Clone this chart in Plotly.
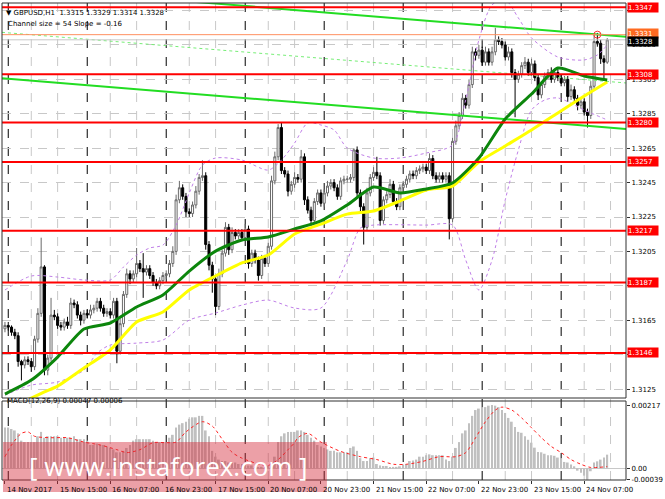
import plotly.graph_objects as go

PIP = 0.0001

# ---------------- data ----------------
tick_labels = ["14 Nov 2017", "15 Nov 15:00", "16 Nov 07:00", "16 Nov 23:00",
               "17 Nov 15:00", "20 Nov 07:00", "20 Nov 23:00", "21 Nov 15:00",
               "22 Nov 07:00", "22 Nov 23:00", "23 Nov 15:00", "24 Nov 07:00"]
tick_bars = [0, 16, 32, 48, 64, 80, 96, 112, 128, 144, 160, 176]
day_start_bars = [1, 25, 49, 73, 97, 121, 145, 169]

first_open = 1.3160
close = [
    1.3162, 1.3161, 1.3158, 1.3156, 1.3141, 1.3139, 1.3142, 1.3141,
    1.3138, 1.3154, 1.3169, 1.3196, 1.3136, 1.3143, 1.3168, 1.3167,
    1.3162, 1.3161, 1.3164, 1.3162, 1.3175, 1.3174, 1.3168, 1.3165,
    1.3169, 1.3168, 1.3171, 1.3172, 1.3176, 1.3172, 1.3169, 1.3170,
    1.3168, 1.3176, 1.3147, 1.3163, 1.3180, 1.3192, 1.3189, 1.3192,
    1.3198, 1.3195, 1.3193, 1.3195, 1.3191, 1.3187, 1.3185, 1.3188,
    1.3191, 1.3192, 1.3198, 1.3205, 1.3235, 1.3242, 1.3237, 1.3228,
    1.3227, 1.3232, 1.3240, 1.3248, 1.3249, 1.3209, 1.3197, 1.3189,
    1.3173, 1.3192, 1.3204, 1.3219, 1.3206, 1.3216, 1.3214, 1.3216,
    1.3213, 1.3218, 1.3198, 1.3204, 1.3200, 1.3191, 1.3201, 1.3198,
    1.3208, 1.3246, 1.3260, 1.3277, 1.3252, 1.3250, 1.3240, 1.3244,
    1.3248, 1.3247, 1.3260, 1.3235, 1.3229, 1.3223, 1.3234, 1.3239,
    1.3233, 1.3239, 1.3243, 1.3245, 1.3242, 1.3237, 1.3246, 1.3247,
    1.3247, 1.3248, 1.3264, 1.3239, 1.3231, 1.3219, 1.3239, 1.3248,
    1.3251, 1.3249, 1.3223, 1.3235, 1.3238, 1.3244, 1.3234, 1.3231,
    1.3242, 1.3244, 1.3247, 1.3250, 1.3249, 1.3252, 1.3253, 1.3254,
    1.3252, 1.3259, 1.3249, 1.3247, 1.3249, 1.3247, 1.3249, 1.3224,
    1.3269, 1.3278, 1.3284, 1.3294, 1.3290, 1.3302, 1.3321, 1.3319,
    1.3322, 1.3315, 1.3321, 1.3315, 1.3321, 1.3328, 1.3327, 1.3325,
    1.3318, 1.3321, 1.3309, 1.3305, 1.3308, 1.3313, 1.3315, 1.3309,
    1.3314, 1.3306, 1.3296, 1.3302, 1.3307, 1.3309, 1.3305, 1.3309,
    1.3306, 1.3303, 1.3305, 1.3295, 1.3299, 1.3294, 1.3290, 1.3292,
    1.3286, 1.3284, 1.3301, 1.3327, 1.3326, 1.3317, 1.3315, 1.3328,
]
# wick lengths (pips) above / below each candle body
wick_up = [
    2, 2, 1, 2, 2, 1, 2, 2,   2, 2, 3, 17, 1, 2, 10, 3,
    2, 2, 2, 3, 3, 2, 2, 2,   2, 2, 3, 2, 2, 2, 2, 2,
    2, 2, 2, 3, 2, 3, 2, 2,   9, 2, 9, 2, 2, 2, 2, 2,
    2, 2, 2, 3, 3, 4, 2, 2,   2, 2, 3, 2, 9, 2, 2, 2,
    2, 3, 2, 3, 2, 3, 2, 2,   2, 3, 2, 2, 2, 2, 2, 2,
    2, 3, 3, 2, 3, 2, 2, 2,   3, 2, 4, 2, 2, 2, 2, 2,
    2, 2, 3, 2, 2, 2, 2, 2,   2, 2, 1, 2, 2, 2, 3, 2,
    3, 9, 2, 2, 2, 3, 2, 2,   2, 2, 2, 2, 2, 2, 2, 2,
    2, 3, 2, 2, 2, 2, 2, 2,   2, 3, 2, 3, 2, 3, 3, 2,
    3, 2, 3, 2, 3, 7, 2, 2,   2, 3, 2, 2, 2, 2, 3, 2,
    3, 2, 2, 2, 2, 2, 3, 2,   2, 2, 2, 2, 3, 2, 2, 2,
    2, 2, 3, 4, 5, 2, 2, 1,
]
wick_dn = [
    2, 2, 2, 2, 3, 9, 2, 2,   3, 2, 2, 2, 3, 3, 2, 2,
    2, 2, 2, 2, 2, 2, 2, 3,   2, 2, 2, 2, 2, 2, 2, 2,
    2, 2, 7, 2, 2, 2, 3, 2,   2, 2, 15, 2, 2, 2, 2, 2,
    2, 2, 2, 2, 2, 2, 2, 3,   2, 2, 2, 2, 2, 3, 3, 8,
    5, 2, 2, 2, 3, 2, 2, 2,   2, 2, 3, 2, 2, 3, 2, 2,
    2, 2, 2, 2, 2, 2, 3, 2,   2, 2, 2, 3, 2, 3, 2, 2,
    2, 2, 2, 2, 2, 2, 2, 2,   2, 2, 2, 2, 3, 10, 2, 2,
    2, 2, 3, 2, 2, 2, 2, 2,   2, 2, 2, 2, 2, 2, 2, 2,
    2, 2, 2, 2, 2, 2, 2, 12,  2, 2, 2, 2, 2, 2, 2, 3,
    2, 2, 2, 2, 2, 2, 2, 2,   2, 2, 3, 22, 2, 2, 2, 2,
    2, 2, 3, 2, 2, 2, 2, 2,   2, 2, 2, 3, 2, 2, 3, 2,
    2, 7, 2, 2, 2, 3, 10, 1,
]

# moving averages (sampled points)
ma_green_bars = [0, 8, 16, 24, 32, 40, 48, 56, 64, 72, 80, 88, 96, 104, 112,
                 120, 128, 136, 144, 152, 160, 168, 176, 183]
ma_green_vals = [1.31221, 1.31302, 1.31436, 1.31599, 1.31634, 1.31727, 1.31797,
                 1.31936, 1.32052, 1.32116, 1.32134, 1.32180, 1.32227, 1.32320,
                 1.32424, 1.32390, 1.32413, 1.32448, 1.32593, 1.32820, 1.32965,
                 1.33116, 1.33070, 1.33047]
ma_yellow_bars = [0, 8, 12, 16, 24, 32, 40, 48, 56, 64, 72, 80, 88, 96, 104,
                  112, 120, 128, 136, 144, 152, 160, 168, 176, 183]
ma_yellow_vals = [1.31128, 1.31198, 1.31233, 1.31267, 1.31372, 1.31477, 1.31640,
                  1.31698, 1.31826, 1.31907, 1.31983, 1.32029, 1.32151, 1.32209,
                  1.32267, 1.32285, 1.32343, 1.32407, 1.32430, 1.32570, 1.32663,
                  1.32756, 1.32855, 1.32953, 1.33035]

# envelope bands (dotted violet)
band_up_bars = [0, 8, 16, 24, 32, 36, 40, 44, 48, 52, 56, 60, 64, 72, 80, 84, 88,
                92, 96, 100, 104, 112, 120, 128, 136, 140, 144, 148, 152, 156,
                160, 168, 176, 180, 183]
band_up_vals = [1.31826, 1.31907, 1.31901, 1.31884, 1.31884, 1.31959, 1.32029,
                1.32070, 1.32087, 1.32203, 1.32390, 1.32552, 1.32593, 1.32581,
                1.32523, 1.32581, 1.32680, 1.32797, 1.32785, 1.32756, 1.32651,
                1.32593, 1.32593, 1.32622, 1.32669, 1.32930, 1.33279, 1.33483,
                1.33512, 1.33407, 1.33291, 1.33180, 1.33163, 1.33192, 1.33250]
band_dn_bars = [0, 8, 16, 24, 28, 32, 40, 48, 56, 64, 72, 80, 88, 96, 104, 108,
                112, 128, 136, 140, 144, 148, 152, 156, 160, 164, 168, 176, 183]
band_dn_vals = [1.31215, 1.31273, 1.31291, 1.31360, 1.31459, 1.31506, 1.31517,
                1.31535, 1.31651, 1.31692, 1.31738, 1.31767, 1.31721, 1.31721,
                1.32000, 1.32186, 1.32203, 1.32203, 1.32203, 1.32000, 1.31826,
                1.32000, 1.32349, 1.32640, 1.32872, 1.32930, 1.32942, 1.32872,
                1.32814]

# support / resistance levels
levels = [1.3347, 1.3308, 1.3280, 1.3257, 1.3217, 1.3187, 1.3146]
alert_price = 1.3331

# price axis tick values (the ones hidden behind level tags in the picture are unlabeled)
price_ticks = [1.3125, 1.3145, 1.3165, 1.3185, 1.3205, 1.3225, 1.3245,
               1.3265, 1.3285, 1.3305, 1.3325, 1.3345]
price_ticks_hidden = [1.3145, 1.3185, 1.3345]

# regression channel anchor points (bar, price)
channel_upper = [(0, 1.33590), (183, 1.33306)]
channel_mid = [(0, 1.33322), (183, 1.33038)]
channel_lower = [(0, 1.33055), (183, 1.32771)]
channel_size = 54
channel_slope = -0.16

# MACD histogram (units of 1e-4) and signal line points
macd_hist_e4 = [
    14, 14, 13.5, 13, 12, 9.5, 9, 9,
    9, 9, 11, 12.5, 10.5, 11, 11, 11,
    11, 10.5, 10.5, 10.5, 10.5, 11, 10, 10,
    10, 9.5, 8, 8, 8.5, 8, 8, 7.5,
    7, 6.5, 5.5, 5.5, 6, 7, 8, 9.5,
    10, 10, 10, 10, 10, 9.5, 9, 9,
    9, 9, 10.5, 11.5, 14, 15, 15.5, 16,
    17, 17.5, 17.5, 18, 18, 13, 11, 6,
    4, 3, 2.5, 2.5, 2, 2, 2, 1.5,
    1.5, 1.5, 1, 1, 0.5, 0.3, 0.5, 0.5,
    1, 2, 4, 9, 11, 12, 12.5, 12.5,
    12.5, 13, 13, 12.5, 11.5, 10.5, 9.5, 8,
    7.5, 7, 6.5, 6, 6, 5.5, 5.5, 5.5,
    5.5, 7, 7.5, 6, 3.5, 2.5, 2.5, 3.5,
    3.7, 1.5, 1, 0.8, 0.8, 0.5, 0.5, 0.5,
    0.7, 1.3, 1.5, 2.5, 2.7, 3, 4, 4,
    4.5, 4.8, 4.5, 4.5, 4.5, 4.5, 3, 2.5,
    4, 7, 9, 12, 13, 15.5, 18, 20,
    20.5, 21, 21, 21.5, 21.7, 21.5, 21, 20,
    19, 17.3, 16, 14.2, 12.5, 12.2, 11, 9.8,
    8.8, 7.1, 5.6, 5.5, 5, 4.5, 4.5, 4.3,
    3.7, 3.5, 2.2, 2, 1.3, 0.7, -0.8, -1.5,
    -2.5, -3.9, -1, 2, 2.4, 3, 3.7, 4.7,
]
signal_bars = [0, 2, 5, 7, 9, 14, 19, 24, 29, 34, 37, 41, 45, 49, 52, 55, 60,
               63, 66, 69, 72, 77, 80, 83, 86, 88, 89, 92, 96, 102, 108, 113,
               118, 122, 127, 132, 137, 140, 143, 146, 149, 151, 154, 157, 160,
               163, 166, 169, 172, 175, 178, 183]
signal_e4 = [4, 8, 12, 12.5, 11, 10.5, 10.5, 9, 8, 6.4, 5.4, 6.4, 8.8, 8.8, 9,
             12.5, 16, 14.5, 10, 5.5, 3.5, 1.5, 1, 3, 6.4, 8.8, 10.5, 12, 9,
             5.8, 4, 3, 1.4, 1.4, 2.4, 4, 4, 5.4, 10.5, 16, 20, 21, 20, 17.3,
             13.9, 10.5, 7.5, 5.4, 3, 1.4, 0.3, 0.6]
macd_axis_labels = [0.00217, 0.0, -0.00039]
macd_axis_texts = ["0.00217", "0.00", "-0.00039"]

# ---------------- derived arrays ----------------
bars = list(range(len(close)))
open_ = [first_open] + close[:-1]
high = [max(o, c) + u * PIP for o, c, u in zip(open_, close, wick_up)]
low = [min(o, c) - d * PIP for o, c, d in zip(open_, close, wick_dn)]
macd_hist = [v * 1e-4 for v in macd_hist_e4]
signal = [v * 1e-4 for v in signal_e4]

XMIN, XMAX = -0.9, 188.7
FONT = "DejaVu Sans"


def extend(line):
    (b0, p0), (b1, p1) = line
    s = (p1 - p0) / (b1 - b0)
    return [XMIN, XMAX], [p0 + s * (XMIN - b0), p0 + s * (XMAX - b0)]


fig = go.Figure()

# channel lines
for ch, col, w, dash in [(channel_upper, "#22dd22", 2, "solid"),
                         (channel_mid, "#77ee77", 1, "dot"),
                         (channel_lower, "#22dd22", 2, "solid")]:
    xs, ys = extend(ch)
    fig.add_trace(go.Scatter(x=xs, y=ys, mode="lines", yaxis="y",
                             line=dict(color=col, width=w, dash=dash),
                             hoverinfo="skip"))

# envelope bands
for bx, bv in [(band_up_bars, band_up_vals), (band_dn_bars, band_dn_vals)]:
    fig.add_trace(go.Scatter(x=bx, y=bv, mode="lines", yaxis="y",
                             line=dict(color="#c080e8", width=1, dash="dot",
                                       shape="spline", smoothing=0.8),
                             hoverinfo="skip"))

# candles
fig.add_trace(go.Candlestick(
    x=bars, open=open_, high=high, low=low, close=close, yaxis="y",
    increasing=dict(line=dict(color="#6a6a6a", width=1), fillcolor="#ffffff"),
    decreasing=dict(line=dict(color="#000000", width=1), fillcolor="#000000"),
    whiskerwidth=0, hoverinfo="skip"))

# moving averages
fig.add_trace(go.Scatter(x=ma_yellow_bars, y=ma_yellow_vals, mode="lines", yaxis="y",
                         line=dict(color="#ffff00", width=3, shape="spline", smoothing=0.6),
                         hoverinfo="skip"))
fig.add_trace(go.Scatter(x=ma_green_bars, y=ma_green_vals, mode="lines", yaxis="y",
                         line=dict(color="#0c860c", width=3, shape="spline", smoothing=0.6),
                         hoverinfo="skip"))

# alert circle
fig.add_trace(go.Scatter(x=[bars[-4]], y=[alert_price], mode="markers", yaxis="y",
                         marker=dict(symbol="circle-open", size=7, color="#ff3030",
                                     line=dict(width=1)),
                         hoverinfo="skip"))

# MACD
fig.add_trace(go.Bar(x=bars, y=macd_hist, yaxis="y2", width=0.55,
                     marker=dict(color="#c0c0c0", line=dict(width=0)),
                     hoverinfo="skip"))
fig.add_trace(go.Scatter(x=signal_bars, y=signal, mode="lines", yaxis="y2",
                         line=dict(color="#ff2020", width=1, dash="dot",
                                   shape="spline", smoothing=0.8),
                         hoverinfo="skip"))

shapes = []
# vertical grid (every 8 bars) and day separators
for b in range(0, int(XMAX) + 1, 8):
    if b % 24 == 0:
        continue
    shapes.append(dict(type="line", xref="x", yref="paper", x0=b, x1=b, y0=0, y1=1,
                       line=dict(color="#c8c8c8", width=1, dash="dash"), layer="below"))
for b in day_start_bars:
    shapes.append(dict(type="line", xref="x", yref="paper", x0=b, x1=b, y0=0, y1=1,
                       line=dict(color="#000000", width=1, dash="dash"), layer="below"))

# horizontal levels
shapes.append(dict(type="line", xref="x domain", yref="y", x0=0, x1=1,
                   y0=close[-1], y1=close[-1], line=dict(color="#c8c8c8", width=1)))
shapes.append(dict(type="line", xref="x domain", yref="y", x0=0, x1=1,
                   y0=alert_price, y1=alert_price, line=dict(color="#ff9060", width=1)))
for lv in levels:
    shapes.append(dict(type="line", xref="x domain", yref="y", x0=0, x1=1,
                       y0=lv, y1=lv, line=dict(color="#ff0000", width=2)))

# panel frames
for ax in ["y", "y2"]:
    shapes.append(dict(type="rect", xref="x domain", yref=ax + " domain",
                       x0=0, x1=1, y0=0, y1=1, line=dict(color="#303030", width=1),
                       fillcolor="rgba(0,0,0,0)"))


def px_x(px):
    return (px - 2) / 630.0


def px_y(py):
    return (480 - py) / 477.0


# watermark box
shapes.append(dict(type="rect", xref="paper", yref="paper",
                   x0=px_x(3), x1=px_x(330), y0=px_y(492), y1=px_y(442),
                   fillcolor="rgba(212,45,60,0.45)", line=dict(width=0), layer="above"))

annotations = []
# price tags on the right axis
tag = dict(xref="paper", x=1, xanchor="left", xshift=1, yref="y", showarrow=False,
           width=30, height=9, align="left", borderpad=0)
for lv in levels:
    annotations.append(dict(tag, y=lv, text=f"{lv:.4f}", bgcolor="#ff0000",
                            font=dict(family=FONT, size=7, color="white")))
annotations.append(dict(tag, y=alert_price, yshift=1, text=f"{alert_price:.4f}",
                        bgcolor="#ff6a20", font=dict(family=FONT, size=7, color="white")))
annotations.append(dict(tag, y=close[-1], yshift=-2, text=f"{close[-1]:.4f}",
                        bgcolor="#000000", font=dict(family=FONT, size=7, color="white")))

# x labels
for b, t in zip(tick_bars, tick_labels):
    annotations.append(dict(xref="x", x=b, xanchor="left", yref="paper", y=0,
                            yanchor="top", yshift=-4, text=t, showarrow=False,
                            font=dict(family=FONT, size=7, color="black")))

# header texts
annotations.append(dict(xref="paper", x=px_x(4), xanchor="left", yref="paper", y=px_y(7),
                        text=f"\u25BC GBPUSD,H1  {open_[-1]:.4f} {high[-1]:.4f} "
                             f"{low[-1]:.4f} {close[-1]:.4f}",
                        showarrow=False, font=dict(family=FONT, size=7, color="black")))
annotations.append(dict(xref="paper", x=px_x(6), xanchor="left", yref="paper", y=px_y(18),
                        text=f"Channel size = {channel_size} Slope = {channel_slope}",
                        showarrow=False, font=dict(family=FONT, size=7, color="black")))
annotations.append(dict(xref="paper", x=px_x(5), xanchor="left", yref="paper", y=px_y(407),
                        text=f"MACD(12,26,9) {macd_hist[-1]:.5f} {signal[-1]:.5f}",
                        showarrow=False, font=dict(family=FONT, size=7, color="black")))
# watermark text
annotations.append(dict(xref="paper", x=px_x(170), xanchor="center", yref="paper",
                        y=px_y(466), yanchor="middle", borderpad=0,
                        text="[ www.instaforex.com ]", showarrow=False,
                        font=dict(family="Open Sans", size=26, color="white")))

fig.update_layout(
    width=665, height=499,
    margin=dict(l=2, r=33, t=3, b=19),
    paper_bgcolor="white", plot_bgcolor="white",
    showlegend=False, hovermode=False, boxgap=0.12,
    xaxis=dict(range=[XMIN, XMAX], anchor="y2", showgrid=False, zeroline=False,
               tickvals=tick_bars, ticks="outside", ticklen=3, tickcolor="#303030",
               showticklabels=False, showline=False,
               rangeslider=dict(visible=False)),
    yaxis=dict(domain=[(480 - 398) / 477.0, 1], range=[1.31198, 1.33494], side="right",
               anchor="x", tickvals=price_ticks,
               ticktext=["" if t in price_ticks_hidden else f"{t:.4f}" for t in price_ticks],
               ticks="outside", ticklen=3, tickcolor="#303030",
               tickfont=dict(family=FONT, size=7, color="black"),
               showgrid=True, gridcolor="#c8c8c8", griddash="dash", zeroline=False),
    yaxis2=dict(domain=[0, (480 - 401) / 477.0], range=[-0.00040, 0.00231], side="right",
                anchor="x", tickvals=macd_axis_labels, ticktext=macd_axis_texts,
                ticks="outside", ticklen=3, tickcolor="#303030",
                tickfont=dict(family=FONT, size=7, color="black"),
                showgrid=False, zeroline=True, zerolinecolor="#c8c8c8", zerolinewidth=1),
    shapes=shapes, annotations=annotations,
)

fig.write_html("out.html", config={"displayModeBar": False},
               post_script="document.body.style.margin='0';")
